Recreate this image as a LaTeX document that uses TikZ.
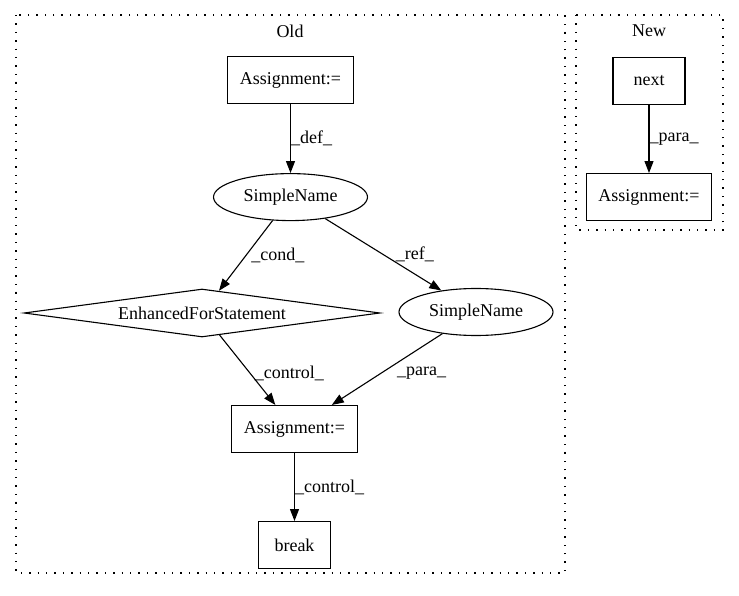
\documentclass[tikz,border=0pt]{standalone}
\usepackage{fontspec}
\setmainfont{Liberation Serif}
\usepackage{tikz}
\usetikzlibrary{arrows.meta,shapes.geometric}
\usetikzlibrary{positioning,calc}

\begin{document}
\begin{tikzpicture}[x=1pt,y=-1pt,every node/.style={font=\fontsize{18}{21}\selectfont},
        block/.style={draw,rectangle,minimum height=47pt,minimum width=72pt,inner xsep=12pt,inner ysep=0pt,line width=1.1pt},
        oval/.style={draw,ellipse,minimum height=47pt,minimum width=154pt,inner sep=0pt,line width=1.1pt},
        cond/.style={draw,diamond,aspect=7.4,minimum width=356pt,minimum height=48pt,inner sep=0pt,line width=1.1pt},
        cluster/.style={draw,dash pattern=on 1.4pt off 7pt,line width=1.3pt},
        link/.style={-{Triangle[length=12pt,width=9pt]},line width=1.1pt},
        lbl/.style={inner sep=0pt}]
   \useasboundingbox (0,0) rectangle (739,596);

   % Old
   \draw[cluster] (16,15) rectangle (565,573);
   \node (old) at (290,31) {Old};
   \node[block] (A) at (290.5,80) {Assignment:=};
   \node[oval] (B) [below = 69pt of A] {SimpleName};
   \node[cond] (C) at (202,313) {EnhancedForStatement};
   \node[oval] (D) at (476,312) {SimpleName};
   \node[block] (E) at (294.5,429) {Assignment:=};
   \node[block] (F) [below = 68pt of E] {break};
   \draw[link] (A) -- node[lbl,right] {\_def\_} (B);
   \draw[link] (B) -- node[lbl,right=5pt] {\_cond\_} (C);
   \draw[link] (B) -- node[lbl,right=12pt] {\_ref\_} (D);
   \draw[link] (C) -- node[lbl,pos=0.55,right=4pt] {\_control\_} (E);
   \draw[link] (D) -- node[lbl,pos=0.55,right=15pt] {\_para\_} (E);
   \draw[link] (E) -- node[lbl,right] {\_control\_} (F);

   % New
   \draw[cluster] (576,15) rectangle (723,230);
   \node (new) at (649,31) {New};
   \node[block] (G) at (649,81) {next};
   \node[block] (H) [below = 68pt of G] {Assignment:=};
   \draw[link] (G) -- node[lbl,right] {\_para\_} (H);

\end{tikzpicture}
\end{document}
